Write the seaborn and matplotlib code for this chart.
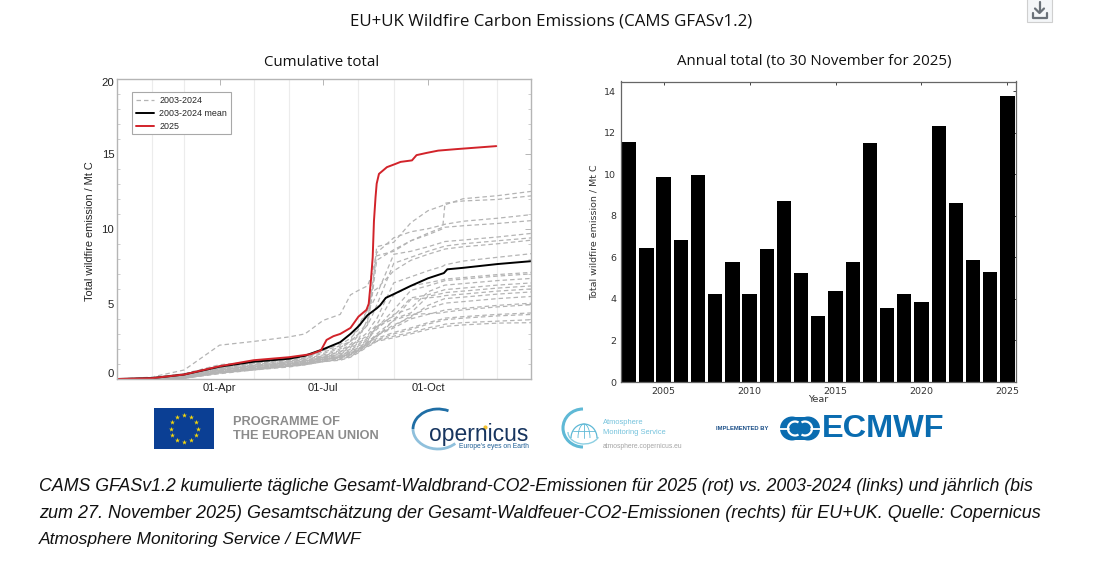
import numpy as np
import matplotlib
matplotlib.use("Agg")
import matplotlib.pyplot as plt
import seaborn as sns
from matplotlib.patches import Rectangle, Arc, Ellipse
from matplotlib.ticker import MultipleLocator, FixedLocator

# Annual totals (right panel)
years = list(range(2003, 2026))
annual_totals = [11.55, 6.47, 9.9, 6.83, 9.98, 4.22, 5.77, 4.23, 6.42, 8.73, 5.25, 3.2,
                 4.37, 5.8, 11.52, 3.58, 4.26, 3.86, 12.33, 8.62, 5.9, 5.32, 13.8]

grey_days = [0, 30, 59, 90, 120, 151, 165, 181, 196, 205, 212, 220, 224, 228, 243, 258, 273, 286, 288, 304, 334, 365]
grey_series = [
    [0, .08, .35, .95, 1.15, 1.35, 1.5, 1.95, 2.3, 2.7, 3.3, 4.6, 5.8, 8.8, 9.1, 10.4, 11.2, 11.55, 11.6, 12.0, 12.2, 12.5],
    [0, .05, .3, .8, 1.05, 1.25, 1.4, 1.9, 2.2, 2.5, 3.0, 3.6, 5.5, 7.9, 8.6, 9.2, 9.7, 10.1, 11.7, 11.85, 11.95, 12.2],
    [0, .12, .6, 2.25, 2.5, 2.8, 3.0, 3.9, 4.3, 5.6, 5.9, 6.2, 7.0, 8.4, 9.4, 9.8, 10.0, 10.25, 10.3, 10.5, 10.7, 10.95],
    [0, .05, .25, .75, 1.05, 1.3, 1.45, 1.8, 2.1, 2.5, 3.0, 3.8, 6.2, 8.2, 8.5, 9.2, 9.6, 10.0, 10.1, 10.2, 10.35, 10.55],
    [0, .05, .25, .7, 1.0, 1.25, 1.4, 1.7, 2.0, 2.5, 3.6, 4.6, 5.0, 5.6, 8.3, 8.5, 8.8, 9.1, 9.15, 9.25, 9.45, 9.7],
    [0, .04, .2, .7, .95, 1.2, 1.35, 1.6, 1.9, 2.3, 2.9, 3.6, 4.2, 4.9, 7.7, 8.1, 8.5, 8.8, 8.85, 9.0, 9.2, 9.4],
    [0, .04, .2, .65, .9, 1.15, 1.3, 1.55, 1.8, 2.2, 2.6, 4.0, 5.8, 6.0, 7.2, 7.9, 8.3, 8.6, 8.65, 8.8, 9.0, 9.25],
    [0, .04, .2, .65, .9, 1.15, 1.25, 1.5, 1.8, 2.2, 2.6, 3.1, 3.6, 4.0, 6.4, 6.8, 7.2, 7.5, 7.6, 7.85, 8.1, 8.35],
    [0, .03, .15, .6, .85, 1.1, 1.2, 1.45, 1.7, 2.1, 2.5, 2.9, 3.3, 3.6, 5.6, 6.2, 6.4, 6.6, 6.65, 6.75, 6.95, 7.1],
    [0, .03, .15, .6, .85, 1.05, 1.2, 1.45, 1.65, 2.0, 2.4, 2.8, 3.1, 3.4, 4.6, 5.9, 6.2, 6.5, 6.55, 6.65, 6.85, 7.0],
    [0, .03, .15, .55, .8, 1.05, 1.15, 1.4, 1.6, 1.9, 2.3, 2.7, 3.0, 3.3, 4.3, 4.7, 5.8, 6.2, 6.25, 6.35, 6.55, 6.7],
    [0, .03, .12, .55, .8, 1.0, 1.15, 1.4, 1.55, 1.85, 2.2, 2.6, 3.0, 3.5, 4.2, 5.4, 5.6, 5.9, 5.95, 6.05, 6.25, 6.4],
    [0, .03, .12, .5, .75, 1.0, 1.1, 1.35, 1.5, 1.8, 2.1, 2.5, 3.2, 3.5, 4.0, 4.4, 5.5, 5.7, 5.75, 5.85, 6.05, 6.2],
    [0, .02, .1, .5, .75, .95, 1.1, 1.35, 1.5, 1.75, 2.0, 2.4, 2.7, 3.0, 3.9, 5.3, 5.4, 5.5, 5.55, 5.65, 5.85, 6.0],
    [0, .02, .1, .5, .7, .95, 1.05, 1.3, 1.45, 1.7, 2.0, 2.3, 2.6, 2.9, 3.6, 4.1, 4.9, 5.3, 5.35, 5.45, 5.65, 5.8],
    [0, .02, .1, .45, .7, .9, 1.05, 1.3, 1.45, 1.65, 1.9, 2.4, 2.6, 2.9, 3.5, 4.2, 4.7, 5.0, 5.05, 5.15, 5.35, 5.5],
    [0, .02, .08, .45, .7, .9, 1.0, 1.25, 1.45, 1.7, 2.0, 2.5, 2.7, 2.9, 3.4, 4.0, 4.3, 4.55, 4.6, 4.7, 4.9, 5.05],
    [0, .02, .08, .45, .65, .9, 1.0, 1.25, 1.45, 1.65, 1.95, 2.4, 2.6, 2.8, 3.9, 4.3, 4.35, 4.4, 4.45, 4.6, 4.8, 4.95],
    [0, .02, .07, .4, .65, .85, 1.0, 1.2, 1.4, 1.6, 1.9, 2.3, 2.5, 2.7, 3.1, 3.4, 3.75, 4.0, 4.05, 4.15, 4.3, 4.4],
    [0, .01, .06, .4, .65, .85, .95, 1.2, 1.35, 1.55, 1.85, 2.25, 2.4, 2.6, 3.0, 3.3, 3.65, 3.9, 3.95, 4.05, 4.2, 4.3],
    [0, .01, .05, .4, .6, .85, .95, 1.15, 1.3, 1.5, 1.8, 2.2, 2.35, 2.55, 2.85, 3.1, 3.4, 3.6, 3.65, 3.75, 3.85, 3.95],
    [0, .01, .05, .35, .6, .8, .95, 1.15, 1.25, 1.45, 1.75, 2.15, 2.3, 2.5, 2.75, 3.0, 3.3, 3.45, 3.5, 3.6, 3.72, 3.75],
]

mean_days = [0, 30, 59, 90, 120, 151, 165, 181, 196, 205, 212, 220, 228, 231, 236, 243, 258, 273, 287, 290, 304, 334, 365]
mean_values = [0, .05, .3, .82, 1.15, 1.35, 1.55, 1.98, 2.45, 3.0, 3.5, 4.25, 4.7, 4.9, 5.4, 5.65, 6.2, 6.7, 7.05, 7.3, 7.4, 7.65, 7.85]

red_days = [0, 30, 59, 90, 120, 151, 170, 179, 184, 190, 196, 205, 212, 219, 221, 223, 224.5, 225.6, 227, 228, 230,
            237, 244, 249, 259, 263, 272, 282, 298, 333]
red_values = [0, .05, .3, .85, 1.25, 1.45, 1.65, 1.9, 2.6, 2.85, 3.0, 3.4, 4.15, 4.6, 5.0, 6.6, 8.1, 10.5, 12.1, 13.0, 13.65,
              14.1, 14.3, 14.45, 14.55, 14.9, 15.05, 15.2, 15.3, 15.5]

month_starts = [31, 59, 90, 120, 151, 181, 212, 243, 273, 304, 334]
date_ticks = [90, 181, 273]
date_labels = ["01-Apr", "01-Jul", "01-Oct"]

W, H = 1095, 574
sns.set_theme(style="white")
plt.rcParams["font.family"] = ["Liberation Sans", "DejaVu Sans"]

fig = plt.figure(figsize=(W / 100, H / 100), dpi=100, facecolor="white")


def px_axes(x0, x1, y0, y1):
    # axes from pixel box of the reference
    return fig.add_axes([x0 / W, 1 - y1 / H, (x1 - x0) / W, (y1 - y0) / H])


# Left panel
ax1 = px_axes(117, 531, 78.5, 379)
ax1.set_axisbelow(True)
ax1.xaxis.set_minor_locator(FixedLocator(month_starts))
ax1.grid(True, which="minor", axis="x", color="#ececec", lw=0.8)
for i, vals in enumerate(grey_series):
    sns.lineplot(x=grey_days, y=vals, ax=ax1, color="#b4b4b4", lw=0.9, linestyle=(i % 3 * 1.5, (3.6, 2.4)),
                 label="2003-2024" if i == 0 else None, legend=False)
sns.lineplot(x=mean_days, y=mean_values, ax=ax1, color="black", lw=1.4, label="2003-2024 mean", legend=False)
sns.lineplot(x=red_days, y=red_values, ax=ax1, color="#d2232a", lw=1.4, label="2025", legend=False)

ax1.set_xlim(0, 363.5)
ax1.set_ylim(0, 20)
ax1.set_xticks(date_ticks)
ax1.set_xticklabels(date_labels, fontsize=8, color="#222222")
ax1.set_yticks([0, 5, 10, 15, 20])
ax1.set_yticklabels(["0", "5", "10", "15", "20"], fontsize=8.2, color="#222222")
ax1.yaxis.set_minor_locator(MultipleLocator(1))
ax1.tick_params(axis="both", which="major", direction="in", length=4, width=0.7, color="#b5b5b5",
                top=True, right=True, pad=3)
ax1.tick_params(axis="y", which="major", pad=2)
ax1.tick_params(axis="y", which="minor", direction="in", length=2.5, width=0.6, color="#c5c5c5", left=True, right=True)
ax1.tick_params(axis="x", which="minor", length=0)
ylabs = ax1.get_yticklabels()
ylabs[0].set_va("bottom")
ylabs[-1].set_va("top")
for s in ax1.spines.values():
    s.set_color("#b5b5b5")
    s.set_linewidth(1.0)
ax1.set_xlabel("")
ax1.set_ylabel("")
leg = ax1.legend(loc="upper left", bbox_to_anchor=(15 / 414, 1 - 13.5 / 300.5), fontsize=6.4, frameon=True,
                 fancybox=False, framealpha=1, edgecolor="#a8a8a8", borderaxespad=0, borderpad=0.42,
                 handlelength=2.1, handletextpad=0.55, labelspacing=0.45)
leg.get_frame().set_linewidth(0.8)

# Right panel
ax2 = px_axes(621, 1016, 81.5, 382)
sns.barplot(x=years, y=annual_totals, ax=ax2, native_scale=True, color="black", width=0.83,
            saturation=1, edgecolor="black", linewidth=0)
ax2.set_xlim(2002.52, 2025.5)
ax2.set_ylim(0, 14.48)
ax2.set_xticks([2005, 2010, 2015, 2020, 2025])
ax2.set_yticks([0, 2, 4, 6, 8, 10, 12, 14])
ax2.tick_params(axis="both", direction="in", length=2.5, width=0.7, color="#444444", labelcolor="#333333",
                labelsize=6.8, top=True, right=True, pad=3.5)
for lab in ax2.get_xticklabels() + ax2.get_yticklabels():
    lab.set_family("DejaVu Sans")
for s in ax2.spines.values():
    s.set_color("#666666")
    s.set_linewidth(0.9)
ax2.set_xlabel("")
ax2.set_ylabel("")

# Everything else placed in reference pixels
ov = fig.add_axes([0, 0, 1, 1], facecolor="none")
ov.set_xlim(0, W)
ov.set_ylim(H, 0)
ov.axis("off")

title_font = "Open Sans"
ov.text(551, 21, "EU+UK Wildfire Carbon Emissions (CAMS GFASv1.2)", ha="center", va="center",
        fontsize=12.2, family=title_font, color="#111111")
ov.text(322, 62, "Cumulative total", ha="center", va="center", fontsize=10.8, family=title_font, color="#111111")
ov.text(814, 62, "Annual total (to 30 November for 2025)", ha="center", va="center", fontsize=10.8,
        family=title_font, color="#111111")
ov.text(90, 231, "Total wildfire emission / Mt C", rotation=90, ha="center", va="center", fontsize=7.9, color="#222222")
ov.text(594, 232, "Total wildfire emission / Mt C", rotation=90, ha="center", va="center", fontsize=6.8,
        family="DejaVu Sans", color="#333333")
ov.text(818, 399, "Year", ha="center", va="center", fontsize=6.8, family="DejaVu Sans", color="#333333")

# Download icon
ov.add_patch(Rectangle((1027, -3), 25, 25, fc="#f4f6f8", ec="#cfcfcf", lw=0.8))
ov.plot([1039.5, 1039.5], [2, 12], color="#6a7178", lw=1.6)
ov.plot([1035, 1039.5, 1044], [8.5, 13, 8.5], color="#6a7178", lw=1.6)
ov.plot([1032.5, 1032.5, 1046.5, 1046.5], [13, 18, 18, 13], color="#6a7178", lw=1.6)

# EU logo
ov.add_patch(Rectangle((154, 408), 60, 41, fc="#0b3f94", ec="none"))
angles = np.arange(12) * np.pi / 6
ov.scatter(184 + 13.5 * np.cos(angles), 428.5 + 13.5 * np.sin(angles), marker="*", s=14, color="#f6d80b", linewidths=0)
ov.text(233, 422, "PROGRAMME OF", fontsize=9.2, fontweight="bold", color="#8c8c8c", va="center")
ov.text(233, 436, "THE EUROPEAN UNION", fontsize=9.2, fontweight="bold", color="#8c8c8c", va="center")

# Copernicus logo
ov.add_patch(Arc((438, 429), 50, 40, theta1=180, theta2=300, color="#1f6ea5", lw=2.0))
ov.add_patch(Arc((438, 429), 50, 40, theta1=40, theta2=180, color="#8fc0dc", lw=2.0))
ov.text(429, 434, "opernicus", fontsize=16.5, color="#17355f", va="center")
ov.scatter([485], [427], s=9, color="#f2c230", linewidths=0)
ov.text(459, 447, "Europe's eyes on Earth", fontsize=4.9, color="#1f5f96", va="center")

# CAMS logo
ov.add_patch(Arc((583, 428), 40, 38, theta1=90, theta2=270, color="#5fb9d6", lw=2.2))
ov.add_patch(Arc((584, 432), 32, 24, theta1=20, theta2=180, color="#8ccfe2", lw=1.0))
ov.add_patch(Arc((584, 438), 26, 28, theta1=180, theta2=360, color="#5fb9d6", lw=0.9))
ov.add_patch(Arc((584, 438), 12, 28, theta1=180, theta2=360, color="#5fb9d6", lw=0.6))
ov.plot([584, 584], [424, 438], color="#5fb9d6", lw=0.6)
ov.plot([573, 595], [431, 431], color="#5fb9d6", lw=0.6)
ov.text(603, 423, "Atmosphere", fontsize=5.4, color="#74c2dc", va="center")
ov.text(603, 432, "Monitoring Service", fontsize=5.4, color="#74c2dc", va="center")
ov.text(603, 446, "atmosphere.copernicus.eu", fontsize=4.85, color="#a5a5a5", va="center")

# ECMWF logo
ov.text(716, 428, "IMPLEMENTED BY", fontsize=4.2, color="#1b4f88", va="center", fontweight="bold")
ov.add_patch(Rectangle((792, 417), 16, 23, fc="#0a6cb0", ec="none"))
ov.add_patch(Ellipse((792, 428.5), 24, 24, fc="#0a6cb0", ec="none"))
ov.add_patch(Ellipse((808, 428.5), 24, 24, fc="#0a6cb0", ec="none"))
ov.add_patch(Arc((795, 428.5), 14, 14, theta1=60, theta2=300, color="white", lw=1.6))
ov.add_patch(Arc((805, 428.5), 14, 14, theta1=240, theta2=120, color="white", lw=1.6))
ov.plot([779, 789], [428.5, 428.5], color="white", lw=1.3)
ov.plot([811, 821], [428.5, 428.5], color="white", lw=1.3)
ov.text(822, 429, "ECMWF", fontsize=23.4, fontweight="bold", color="#0a6cb0", va="center")

# Caption
caption_lines = [
    "CAMS GFASv1.2 kumulierte tägliche Gesamt-Waldbrand-CO2-Emissionen für 2025 (rot) vs. 2003-2024 (links) und jährlich (bis",
    "zum 27. November 2025) Gesamtschätzung der Gesamt-Waldfeuer-CO2-Emissionen (rechts) für EU+UK. Quelle: Copernicus",
    "Atmosphere Monitoring Service / ECMWF",
]
for y, size, line in zip([486.5, 513, 539.5], [12.82, 13.0, 12.47], caption_lines):
    ov.text(39, y, line, fontsize=size, style="italic", color="#111111", va="center")

fig.savefig("out.png", dpi=100, facecolor="white")
